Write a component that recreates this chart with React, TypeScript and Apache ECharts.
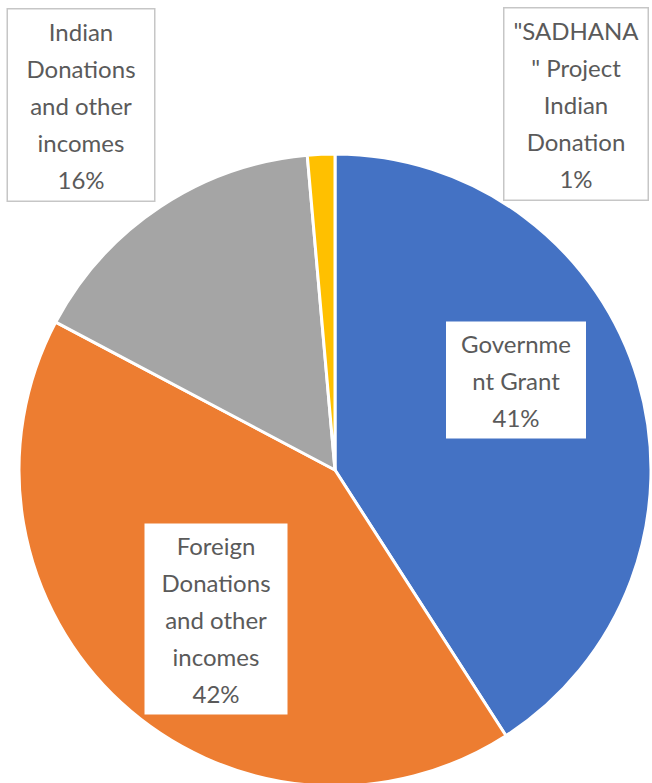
import React, { useEffect, useRef } from "react";
import * as echarts from "echarts";

const categories = [
  "Government Grant",
  "Foreign Donations and other incomes",
  "Indian Donations and other incomes",
  '"SADHANA" Project Indian Donation',
];
const values = [40.9, 41.85, 15.85, 1.4];
const labelTexts = [
  "Governme\nnt Grant",
  "Foreign\nDonations\nand other\nincomes",
  "Indian\nDonations\nand other\nincomes",
  '"SADHANA\n" Project\nIndian\nDonation',
];
const colors = ["#4472C4", "#ED7D31", "#A5A5A5", "#FFC000"];

const labelCenters = [
  [516, 380],
  [216, 619],
  [81, 105],
  [576, 104],
];
const labelWidths = [136, 139, 142, 139];
const labelBorders = ["transparent", "transparent", "#c6c6c6", "#c6c6c6"];

export default function App() {
  const ref = useRef<HTMLDivElement>(null);
  useEffect(() => {
    if (!ref.current) return;
    const chart = echarts.init(ref.current, undefined, { renderer: "svg" });
    chart.setOption({
      animation: false,
      backgroundColor: "#ffffff",
      series: [
        {
          type: "pie",
          center: [335, 470],
          radius: 316,
          startAngle: 90,
          clockwise: true,
          avoidLabelOverlap: false,
          itemStyle: { borderColor: "#ffffff", borderWidth: 3 },
          labelLine: { show: false },
          data: categories.map((name, i) => ({
            name,
            value: values[i],
            itemStyle: { color: colors[i] },
            label: {
              show: true,
              position: i < 2 ? "inside" : "outside",
              formatter: (p: any) => labelTexts[i] + "\n" + Math.round(p.percent) + "%",
              fontFamily: "Lato, 'Open Sans', sans-serif",
              fontSize: 24,
              lineHeight: 37,
              color: "#5a5a5a",
              align: "center",
              width: labelWidths[i],
              backgroundColor: "#ffffff",
              borderColor: labelBorders[i],
              borderWidth: 1.5,
              padding: [3, 2, 3, 2],
            },
          })),
          labelLayout: (params: any) => {
            const c = labelCenters[params.dataIndex];
            return {
              x: c[0],
              y: c[1],
              align: "center",
              verticalAlign: "middle",
            };
          },
        },
      ],
    });
    return () => chart.dispose();
  }, []);
  return (
    <div
      ref={ref}
      style={{ position: "fixed", left: 0, top: 0, width: 652, height: 783 }}
    />
  );
}
